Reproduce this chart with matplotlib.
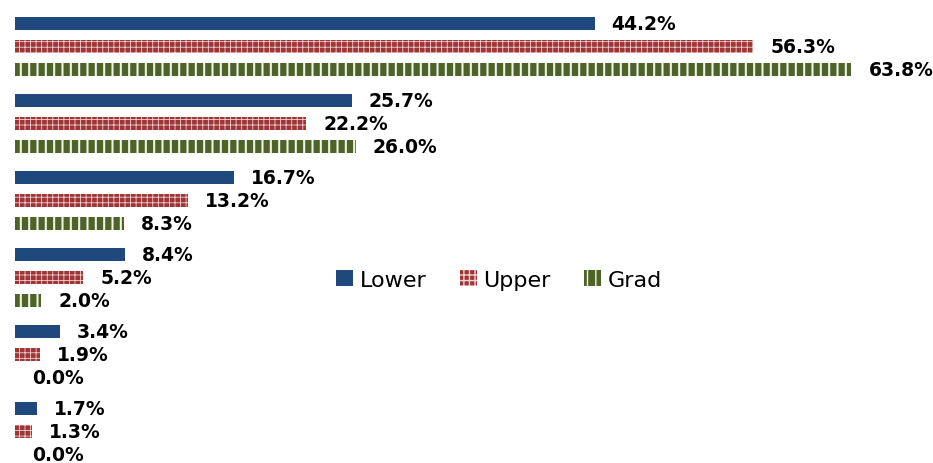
import matplotlib.pyplot as plt
import matplotlib as mpl
import numpy as np

series_names = ["Lower", "Upper", "Grad"]
lower = [44.2, 25.7, 16.7, 8.4, 3.4, 1.7]
upper = [56.3, 22.2, 13.2, 5.2, 1.9, 1.3]
grad = [63.8, 26.0, 8.3, 2.0, 0.0, 0.0]

colors = ["#1F497D", "#9E3537", "#4F6228"]
hatch_colors = [None, "#F0D0D0", "#EEF2E6"]
hatches = [None, "+++", "||"]
hatch_widths = [0.8, 0.6, 1.5]

fig = plt.figure(figsize=(9.33, 4.64), dpi=100)
ax = fig.add_axes([0, 0, 1, 1])

px_per_pct = (594.5 - 15) / 44.2
ax.set_xlim(-15 / px_per_pct, (933 - 15) / px_per_pct)
ax.set_ylim((464 - 24.5) / 77, -24.5 / 77)

groups = np.arange(len(lower))
offset = 23 / 77
height = 12.5 / 77

for j, vals in enumerate([lower, upper, grad]):
    ypos = groups + j * offset
    with mpl.rc_context({"hatch.linewidth": hatch_widths[j]}):
        ax.barh(ypos, vals, height=height, color=colors[j],
                edgecolor=hatch_colors[j] or colors[j],
                hatch=hatches[j], linewidth=0, label=series_names[j])
    for y, v in zip(ypos, vals):
        ax.text(v + 17 / px_per_pct, y, f"{v:.1f}%", va="center", ha="left",
                fontsize=13.5, fontweight="bold", color="black")

ax.axis("off")

fig.legend(loc="center", bbox_to_anchor=(499 / 933, 1 - 281 / 464),
           ncol=3, frameon=False, fontsize=16, handlelength=0.75,
           handleheight=0.75, handletextpad=0.3, columnspacing=1.5)

fig.savefig("out.png", dpi=100)
